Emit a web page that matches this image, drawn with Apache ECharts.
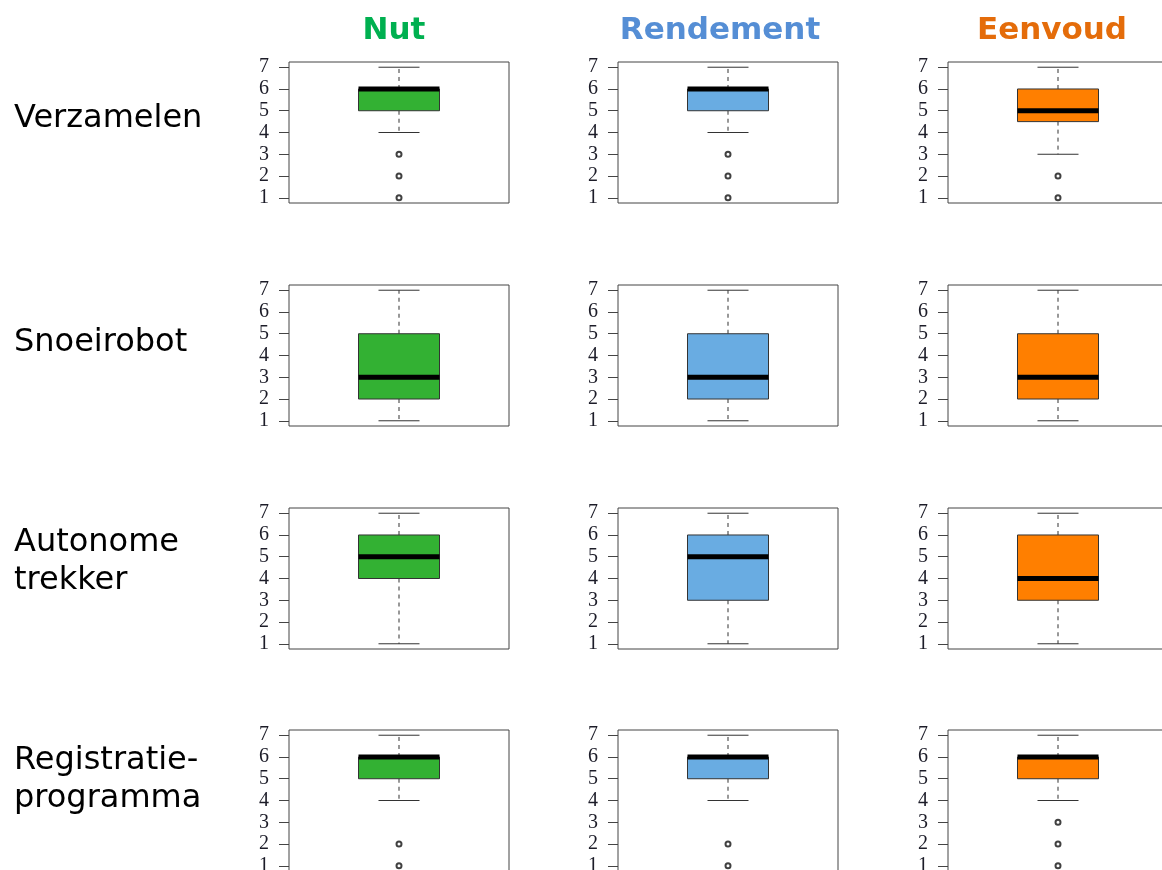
<!DOCTYPE html>
<html>
<head>
<meta charset="utf-8">
<style>
  html, body { margin: 0; padding: 0; background: #ffffff; }
  #chart { width: 1162px; height: 870px; }
</style>
<script src="https://cdn.jsdelivr.net/npm/echarts@6/dist/echarts.min.js"></script>
</head>
<body>
<div id="chart"></div>
<script>
// Column headings (aspects rated) and row headings (tools)
const metrics = ['Nut', 'Rendement', 'Eenvoud'];
const tools = ['Verzamelen', 'Snoeirobot', 'Autonome\ntrekker', 'Registratie-\nprogramma'];
const yTicks = [1, 2, 3, 4, 5, 6, 7];

// Box statistics per tool: [lower whisker, Q1, median, Q3, upper whisker] for Nut, Rendement, Eenvoud
const verzamelenStats = [[4, 5, 6, 6, 7], [4, 5, 6, 6, 7], [3, 4.5, 5, 6, 7]];
const snoeirobotStats = [[1, 2, 3, 5, 7], [1, 2, 3, 5, 7], [1, 2, 3, 5, 7]];
const trekkerStats = [[1, 4, 5, 6, 7], [1, 3, 5, 6, 7], [1, 3, 4, 6, 7]];
const registratieStats = [[4, 5, 6, 6, 7], [4, 5, 6, 6, 7], [4, 5, 6, 6, 7]];

// Outlying answers per tool, same column order
const verzamelenOutliers = [[3, 2, 1], [3, 2, 1], [2, 1]];
const snoeirobotOutliers = [[], [], []];
const trekkerOutliers = [[], [], []];
const registratieOutliers = [[2, 1], [2, 1], [3, 2, 1]];

const allStats = [verzamelenStats, snoeirobotStats, trekkerStats, registratieStats];
const allOutliers = [verzamelenOutliers, snoeirobotOutliers, trekkerOutliers, registratieOutliers];

const headColors = ['#00b050', '#558ed5', '#e46c0a'];
const boxColors = ['#33b133', '#69ace2', '#ff7f00'];

const colLeft = [289, 618, 948];
const rowTop = [62, 285, 508, 730];
const panelW = 220, panelH = 141;

const grids = [], xAxes = [], yAxes = [], series = [];

function renderBox(params, api) {
  const cx = api.coord([api.value(0), 0])[0];
  const yLow = api.coord([0, api.value(1)])[1];
  const yQ1 = api.coord([0, api.value(2)])[1];
  const yMed = api.coord([0, api.value(3)])[1];
  const yQ3 = api.coord([0, api.value(4)])[1];
  const yHigh = api.coord([0, api.value(5)])[1];
  const half = 40.5, cap = 20.5;
  const whisk = { stroke: '#333', lineWidth: 1, lineDash: [4, 4] };
  const solid = { stroke: '#333', lineWidth: 1 };
  return {
    type: 'group',
    children: [
      { type: 'line', shape: { x1: cx, y1: yQ3, x2: cx, y2: yHigh }, style: whisk },
      { type: 'line', shape: { x1: cx, y1: yQ1, x2: cx, y2: yLow }, style: whisk },
      { type: 'line', shape: { x1: cx - cap, y1: yHigh, x2: cx + cap, y2: yHigh }, style: solid },
      { type: 'line', shape: { x1: cx - cap, y1: yLow, x2: cx + cap, y2: yLow }, style: solid },
      { type: 'rect', shape: { x: cx - half, y: yQ3, width: 2 * half, height: yQ1 - yQ3 },
        style: { fill: api.visual('color'), stroke: '#333', lineWidth: 1 } },
      { type: 'line', shape: { x1: cx - half, y1: yMed, x2: cx + half, y2: yMed },
        style: { stroke: '#000', lineWidth: 5 } }
    ]
  };
}

tools.forEach((tool, r) => {
  metrics.forEach((m, c) => {
    const idx = r * 3 + c;
    // panels on the right and bottom edges are allowed to run past the canvas
    grids.push({
      left: colLeft[c], top: rowTop[r], width: panelW, height: panelH,
      outerBoundsMode: 'none',
      show: true, borderColor: '#444', borderWidth: 1, backgroundColor: 'transparent'
    });
    xAxes.push({ gridIndex: idx, type: 'value', min: 0, max: 1, show: false });
    yAxes.push({
      gridIndex: idx, type: 'value', min: 0.76, max: 7.24,
      axisLine: { show: false },
      splitLine: { show: false },
      axisTick: { show: true, length: 10, customValues: yTicks, lineStyle: { color: '#444', width: 1 } },
      axisLabel: {
        customValues: yTicks, margin: 20, color: '#1c1c28',
        fontFamily: 'Liberation Serif', fontSize: 20
      }
    });
    const s = allStats[r][c];
    series.push({
      type: 'custom', xAxisIndex: idx, yAxisIndex: idx,
      itemStyle: { color: boxColors[c] },
      renderItem: renderBox,
      clip: false,
      data: [[0.5, s[0], s[1], s[2], s[3], s[4]]]
    });
    const outs = allOutliers[r][c];
    if (outs.length) {
      series.push({
        type: 'scatter', xAxisIndex: idx, yAxisIndex: idx,
        symbol: 'emptyCircle', symbolSize: 5,
        itemStyle: { color: '#111', borderWidth: 1.6 },
        clip: false,
        data: outs.map(v => [0.5, v])
      });
    }
  });
});

// Headings: aspect titles above the columns and tool names left of the rows
const headCenters = [394, 720, 1052];
const graphics = [];
metrics.forEach((m, c) => {
  graphics.push({
    type: 'text', x: headCenters[c], y: 31,
    style: {
      text: m, align: 'center', verticalAlign: 'middle', fill: headColors[c],
      font: 'bold 31px "DejaVu Sans"'
    }
  });
});
const rowLabelTop = [100, 324, 524, 742];
tools.forEach((t, r) => {
  graphics.push({
    type: 'text', x: 14, y: rowLabelTop[r],
    style: { text: t, fill: '#000', font: '32px "DejaVu Sans"', lineHeight: 38 }
  });
});

const chart = echarts.init(document.getElementById('chart'));
chart.setOption({
  backgroundColor: '#ffffff',
  animation: false,
  grid: grids,
  xAxis: xAxes,
  yAxis: yAxes,
  series: series,
  graphic: graphics
});
</script>
</body>
</html>
